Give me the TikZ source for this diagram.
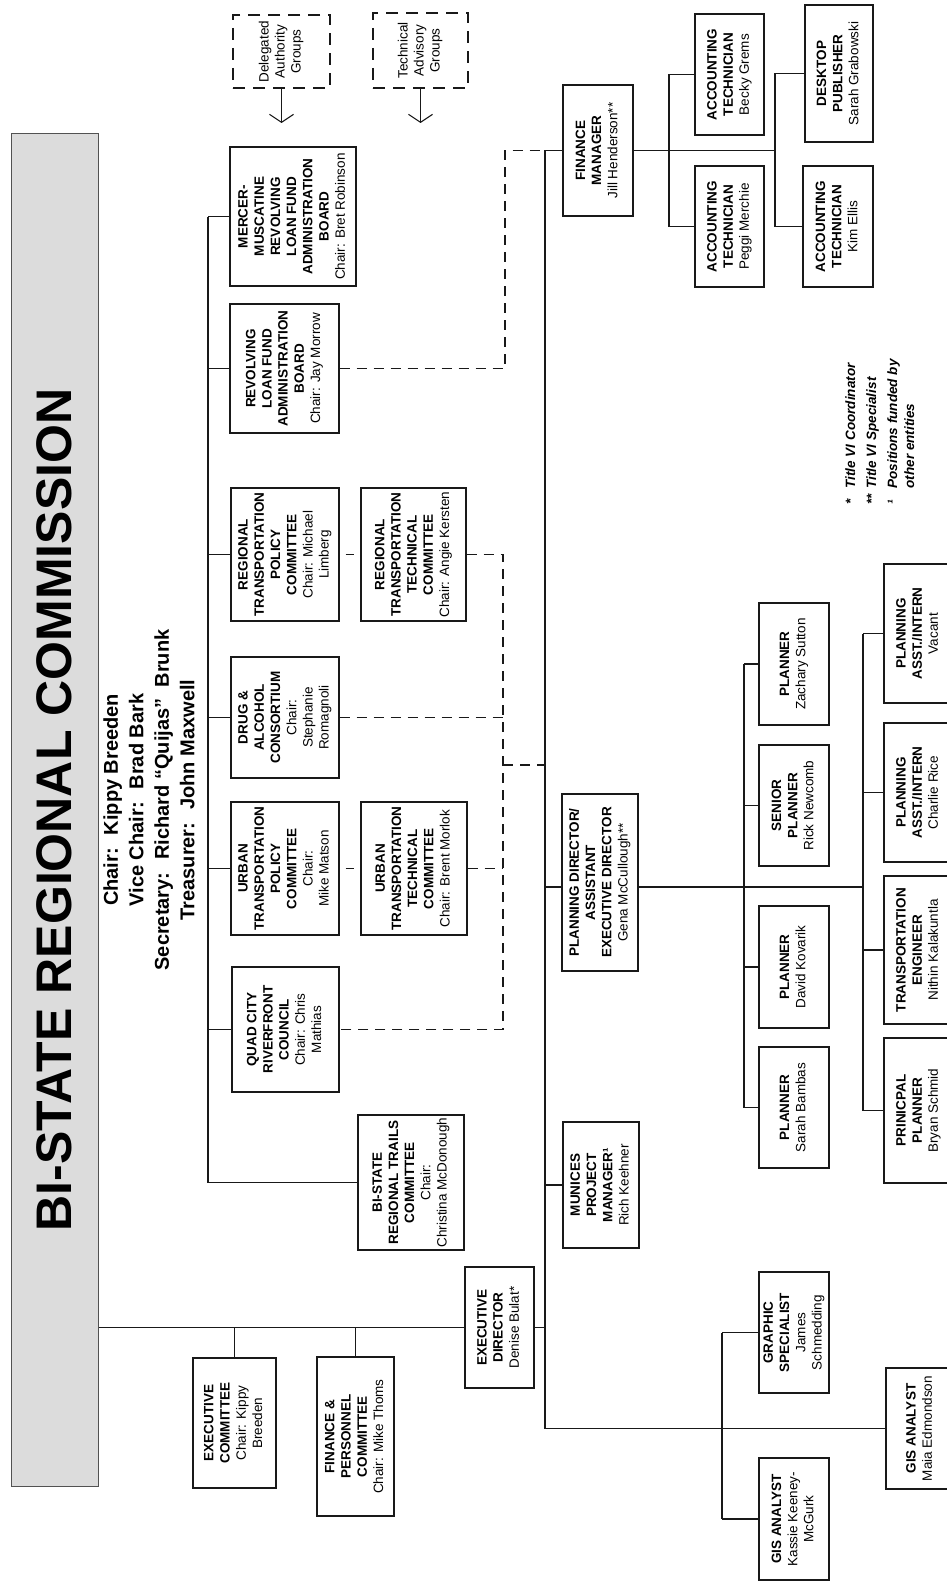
\documentclass[tikz,border=0pt]{standalone}
\usepackage{fontspec}
\setmainfont{Liberation Sans}
\usepackage{graphicx}
\usetikzlibrary{arrows.meta}
\definecolor{titlegray}{RGB}{220,220,220}
\definecolor{ink}{RGB}{25,25,25}
\newcommand\card[1]{\rotatebox{90}{\bfseries\begin{tabular}{@{}c@{}}#1\end{tabular}}}
\newcommand\plaincard[1]{\rotatebox{90}{\begin{tabular}{@{}c@{}}#1\end{tabular}}}
\newcommand\nm{\mdseries}
\newcommand\bx[7][card]{\node[#1,minimum width={#5pt-#3pt},minimum height={#6pt-#4pt}] (#2) at ({(#3+#5)/2},{(#4+#6)/2}) {#7};}
\begin{document}
\begin{tikzpicture}[x=1pt,y=-1pt,
  card/.style={draw=ink,line width=1.3pt,fill=white,inner sep=0pt,font=\fontsize{13.5}{16.2}\selectfont},
  dashcard/.style={card,dash pattern=on 12pt off 8pt,font=\fontsize{13.5}{16}\selectfont},
  link/.style={draw=ink,line width=1.1pt},
  dlink/.style={link,dash pattern=on 10pt off 7pt},
  downarrow/.style={link,-{Straight Barb[length=8pt,width=24pt,line width=1.1pt]}}]
\useasboundingbox (0,0) rectangle (946,1581);
\fill[white] (0,0) rectangle (946,1581);

% title
\node[draw=ink!75,fill=titlegray,line width=1pt,minimum width=87pt,minimum height=1352pt,inner sep=0pt] (title) at (54.5,810)
  {\rotatebox{90}{\fontsize{50}{60}\selectfont\bfseries BI-STATE REGIONAL COMMISSION}};
\node[inner sep=0pt] (officers) at (151,800)
  {\rotatebox{90}{\fontsize{20}{25.5}\selectfont\bfseries\begin{tabular}{@{}c@{}}Chair:~ Kippy Breeden\\Vice Chair:~ Brad Bark\\Secretary:~ Richard “Quijas”~ Brunk\\Treasurer:~ John Maxwell\end{tabular}}};

% dashed groups
\bx[dashcard]{delegated}{233}{15}{330}{88}{\plaincard{Delegated\\Authority\\Groups}}
\bx[dashcard]{technical}{373}{13}{468}{88}{\plaincard{Technical\\Advisory\\Groups}}

% committees
\bx{mercer}{230}{147}{356}{286}{\card{MERCER-\\MUSCATINE\\REVOLVING\\LOAN FUND\\ADMINISTRATION\\BOARD\\\nm Chair: Bret Robinson}}
\bx{revolving}{230}{304}{339}{433}{\card{REVOLVING\\LOAN FUND\\ADMINISTRATION\\BOARD\\\nm Chair: Jay Morrow}}
\bx{rtpc}{231}{488}{339}{621}{\card{REGIONAL\\TRANSPORTATION\\POLICY\\COMMITTEE\\\nm Chair: Michael\\\nm Limberg}}
\bx{rttc}{361}{488}{466}{621}{\card{REGIONAL\\TRANSPORTATION\\TECHNICAL\\COMMITTEE\\\nm Chair: Angie Kersten}}
\bx{drug}{231}{657}{339}{778}{\card{DRUG \&\\ALCOHOL\\CONSORTIUM\\\nm Chair:\\\nm Stephanie\\\nm Romagnoli}}
\bx{utpc}{231}{802}{339}{935}{\card{URBAN\\TRANSPORTATION\\POLICY\\COMMITTEE\\\nm Chair:\\\nm Mike Matson}}
\bx{uttc}{361}{802}{467}{935}{\card{URBAN\\TRANSPORTATION\\TECHNICAL\\COMMITTEE\\\nm Chair: Brent Morlok}}
\bx{quad}{232}{967}{339}{1092}{\card{QUAD CITY\\RIVERFRONT\\COUNCIL\\\nm Chair: Chris\\\nm Mathias}}
\bx{trails}{358}{1115}{464}{1250}{\card{BI-STATE\\REGIONAL TRAILS\\COMMITTEE\\\nm Chair:\\\nm Christina McDonough}}
\bx{execcom}{193}{1358}{276}{1488}{\card{EXECUTIVE\\COMMITTEE\\\nm Chair: Kippy\\\nm Breeden}}
\bx{finpers}{317}{1357}{394}{1516}{\card{FINANCE \&\\PERSONNEL\\COMMITTEE\\\nm Chair: Mike Thoms}}

% staff
\bx{execdir}{465}{1267}{534}{1388}{\card{EXECUTIVE\\DIRECTOR\\\nm Denise Bulat*}}
\bx{finmgr}{563}{85}{633}{216}{\card{FINANCE\\MANAGER\\\nm Jill Henderson**}}
\bx{becky}{695}{14}{764}{135}{\card{ACCOUNTING\\TECHNICIAN\\\nm Becky Grems}}
\bx{peggi}{695}{166}{764}{287}{\card{ACCOUNTING\\TECHNICIAN\\\nm Peggi Merchie}}
\bx{desktop}{805}{5}{873}{142}{\card{DESKTOP\\PUBLISHER\\\nm Sarah Grabowski}}
\bx{kim}{803}{166}{873}{287}{\card{ACCOUNTING\\TECHNICIAN\\\nm Kim Ellis}}
\bx{plandir}{562}{794}{638}{971}{\card{PLANNING DIRECTOR/\\ASSISTANT\\EXECUTIVE DIRECTOR\\\nm Gena McCullough**}}
\bx{munices}{563}{1122}{639}{1248}{\card{MUNICES\\PROJECT\\MANAGER¹\\\nm Rich Keehner}}
\bx{zach}{759}{603}{829}{725}{\card{PLANNER\\\nm Zachary Sutton}}
\bx{rick}{759}{745}{829}{866}{\card{SENIOR\\PLANNER\\\nm Rick Newcomb}}
\bx{david}{759}{906}{829}{1028}{\card{PLANNER\\\nm David Kovarik}}
\bx{sarah}{759}{1047}{829}{1168}{\card{PLANNER\\\nm Sarah Bambas}}
\bx{vacant}{884}{564}{953}{703}{\card{PLANNING\\ASST./INTERN\\\nm Vacant}}
\bx{charlie}{884}{723}{953}{862}{\card{PLANNING\\ASST./INTERN\\\nm Charlie Rice}}
\bx{nithin}{884}{876}{953}{1024}{\card{TRANSPORTATION\\ENGINEER\\\nm Nithin Kalakuntla}}
\bx{bryan}{884}{1038}{953}{1183}{\card{PRINICPAL\\PLANNER\\\nm Bryan Schmid}}
\bx{graphic}{759}{1272}{829}{1393}{\card{GRAPHIC\\SPECIALIST\\\nm James\\\nm Schmedding}}
\bx{kassie}{759}{1458}{829}{1580}{\card{GIS ANALYST\\\nm Kassie Keeney-\\\nm McGurk}}
\bx{maia}{886}{1368}{955}{1489}{\card{GIS ANALYST\\\nm Maia Edmondson}}

% legend
\node[anchor=south west,inner sep=0pt] (legend) at (843,505)
  {\rotatebox{90}{\fontsize{13.5}{17}\selectfont\bfseries\itshape\begin{tabular}{@{}l@{\hspace{6pt}}l@{}}*&Title VI Coordinator\\[4pt]**&Title VI Specialist\\[4pt]¹&Positions funded by\\&other entities\end{tabular}}};

% helper coordinates
\coordinate (tk) at (208,0);
\coordinate (mv) at (545,0);
\coordinate (dv) at (503,0);
\coordinate (uv) at (505,0);
\coordinate (fa) at (669,0);
\coordinate (fb) at (775,0);
\coordinate (pa) at (744,0);
\coordinate (pb) at (863,0);
\coordinate (ga) at (722,0);
\coordinate (dj) at (503,765);
\coordinate (pdl) at ([yshift=-4.5pt]plandir.west);
\coordinate (pdr) at ([yshift=-4.5pt]plandir.east);
\coordinate (dat) at (281.5,123);
\coordinate (tat) at (420.5,123);

% arrows from groups
\draw[downarrow] (delegated.south) -- (dat);
\draw[downarrow] (technical.south) -- (tat);

% commission and executive
\draw[link] (execdir.west -| title.east) -- (execdir.west);
\draw[link] (execcom.north) -- (execcom.north |- execdir.west);
\draw[link] (finpers.north) -- (finpers.north |- execdir.west);

% committee trunk
\draw[link] (tk |- mercer.west) -- (tk |- trails.west) -- (trails.west);
\foreach \n in {mercer,revolving,rtpc,drug,utpc,quad}
  \draw[link] (tk |- \n.west) -- (\n.west);
\draw[link] ([xshift=6pt]rtpc.east) -- ([xshift=-6pt]rttc.west);
\draw[link] ([xshift=6pt]utpc.east) -- ([xshift=-6pt]uttc.west);

% dashed relations
\draw[dlink] (revolving.east) -- (uv |- revolving.east) -- (uv |- finmgr.west) -- (mv |- finmgr.west);
\draw[dlink] (rttc.east) -- (dv |- rttc.east) -- (dv |- quad.east) -- (quad.east);
\draw[dlink] (drug.east) -- (dv |- drug.east);
\draw[dlink] (uttc.east) -- (dv |- uttc.east);
\draw[dlink] (dj) -- (mv |- dj);

% staff trunk
\draw[link] (mv |- finmgr.west) -- (mv |- maia.west) -- (maia.west);
\draw[link] (mv |- finmgr.west) -- (finmgr.west);
\draw[link] (mv |- execdir.east) -- (execdir.east);
\draw[link] (mv |- munices.west) -- (munices.west);
\draw[link] (mv |- pdl) -- (pdl);

% finance branch
\draw[link] (finmgr.east) -- (fb |- finmgr.east);
\draw[link] (fa |- becky.west) -- (fa |- peggi.west);
\draw[link] (fb |- desktop.west) -- (fb |- kim.west);
\foreach \n in {becky,peggi} \draw[link] (fa |- \n.west) -- (\n.west);
\foreach \n in {desktop,kim} \draw[link] (fb |- \n.west) -- (\n.west);

% planning branch
\draw[link] (pdr) -- (pb |- pdr);
\draw[link] (pa |- zach.west) -- (pa |- sarah.west);
\draw[link] (pb |- vacant.west) -- (pb |- bryan.west);
\foreach \n in {zach,rick,david,sarah} \draw[link] (pa |- \n.west) -- (\n.west);
\foreach \n in {vacant,charlie,nithin,bryan} \draw[link] (pb |- \n.west) -- (\n.west);

% GIS / graphics branch
\draw[link] (ga |- graphic.west) -- (ga |- kassie.west);
\foreach \n in {graphic,kassie} \draw[link] (ga |- \n.west) -- (\n.west);
\end{tikzpicture}
\end{document}
